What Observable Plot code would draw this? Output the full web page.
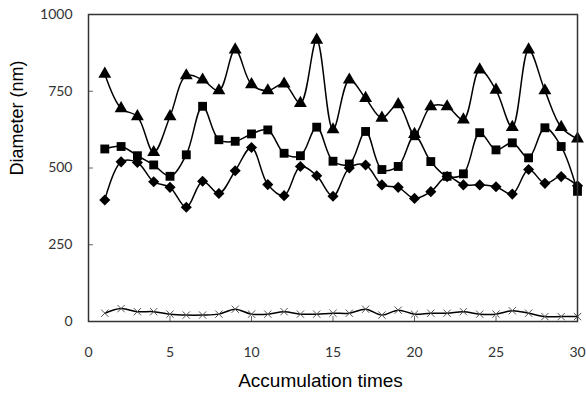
<!DOCTYPE html>
<html>
<head>
<meta charset="utf-8">
<script src="https://cdn.jsdelivr.net/npm/d3@7"></script>
<script src="https://cdn.jsdelivr.net/npm/@observablehq/plot@0.6"></script>
<style>
  html, body { margin: 0; padding: 0; background: white; }
  #chart { width: 586px; height: 394px; }
</style>
</head>
<body>
<div id="chart"></div>
<script>
const times = [1,2,3,4,5,6,7,8,9,10,11,12,13,14,15,16,17,18,19,20,21,22,23,24,25,26,27,28,29,30];
const triangleSeries = [806,694,668,551,668,801,787,752,885,772,752,774,711,917,625,787,727,663,707,610,700,700,657,820,754,633,885,752,633,595];
const squareSeries = [562,570,540,510,473,543,701,592,587,611,624,548,540,633,522,513,619,495,505,605,521,473,481,615,559,582,533,631,570,424];
const diamondSeries = [396,520,518,455,437,372,457,417,491,567,446,410,505,475,408,500,510,445,437,401,423,472,445,445,439,415,495,450,472,442];
const crossSeries = [27,42,32,32,24,21,21,24,40,24,24,32,24,24,27,27,40,21,37,24,27,27,32,24,24,35,27,16,16,16];
const xTicks = [0,5,10,15,20,25,30];
const yTicks = [0,250,500,750,1000];
const xTitle = "Accumulation times";
const yTitle = "Diameter (nm)";

const rows = arr => times.map((t, i) => ({t, v: arr[i]}));
const tri = rows(triangleSeries), sq = rows(squareSeries), dia = rows(diamondSeries), cr = rows(crossSeries);

const line = d => Plot.line(d, {x: "t", y: "v", curve: "catmull-rom", stroke: "black", strokeWidth: 1.5});

const chart = Plot.plot({
  width: 586, height: 394,
  marginLeft: 88, marginRight: 9, marginTop: 14, marginBottom: 73,
  x: {domain: [0, 30]},
  y: {domain: [0, 1000]},
  style: {fontFamily: "Lato, 'Open Sans', sans-serif", fontSize: "14px", color: "#333", background: "white"},
  marks: [
    // inner tick marks
    Plot.axisX(xTicks, {tickSize: 5, dy: -5, tickFormat: () => "", label: null, stroke: "#666"}),
    Plot.axisY(yTicks, {tickSize: 5, dx: 5, tickFormat: () => "", label: null, stroke: "#666"}),
    // tick labels
    Plot.axisX(xTicks, {tickSize: 0, tickPadding: 26, label: null, fill: "#333", tickFormat: d3.format("d")}),
    Plot.axisY(yTicks, {tickSize: 0, tickPadding: 16, label: null, fill: "#333", tickFormat: d3.format("d")}),
    line(cr),
    Plot.dot(cr, {x: "t", y: "v", symbol: "times", r: 3.4, stroke: "#555", strokeWidth: 1}),
    line(dia),
    Plot.dot(dia, {x: "t", y: "v", symbol: "diamond2", r: 5, fill: "black", stroke: "none"}),
    line(sq),
    Plot.dot(sq, {x: "t", y: "v", symbol: "square", r: 5, fill: "black", stroke: "none"}),
    line(tri),
    Plot.dot(tri, {x: "t", y: "v", symbol: "triangle", r: 4.8, fill: "black", stroke: "none"}),
    Plot.frame({stroke: "#333", strokeWidth: 1.5}),
    Plot.text([xTitle], {text: d => d, frameAnchor: "bottom", dx: -12.5, dy: 59, lineAnchor: "middle",
      fontFamily: "'Liberation Sans', Arial, sans-serif", fontSize: 19, fill: "black"}),
    Plot.text([yTitle], {text: d => d, frameAnchor: "left", rotate: -90, dx: -71.5, dy: 7.5, lineAnchor: "middle",
      fontFamily: "'Liberation Sans', Arial, sans-serif", fontSize: 18, fill: "black"})
  ]
});
document.getElementById("chart").appendChild(chart);
</script>
</body>
</html>
